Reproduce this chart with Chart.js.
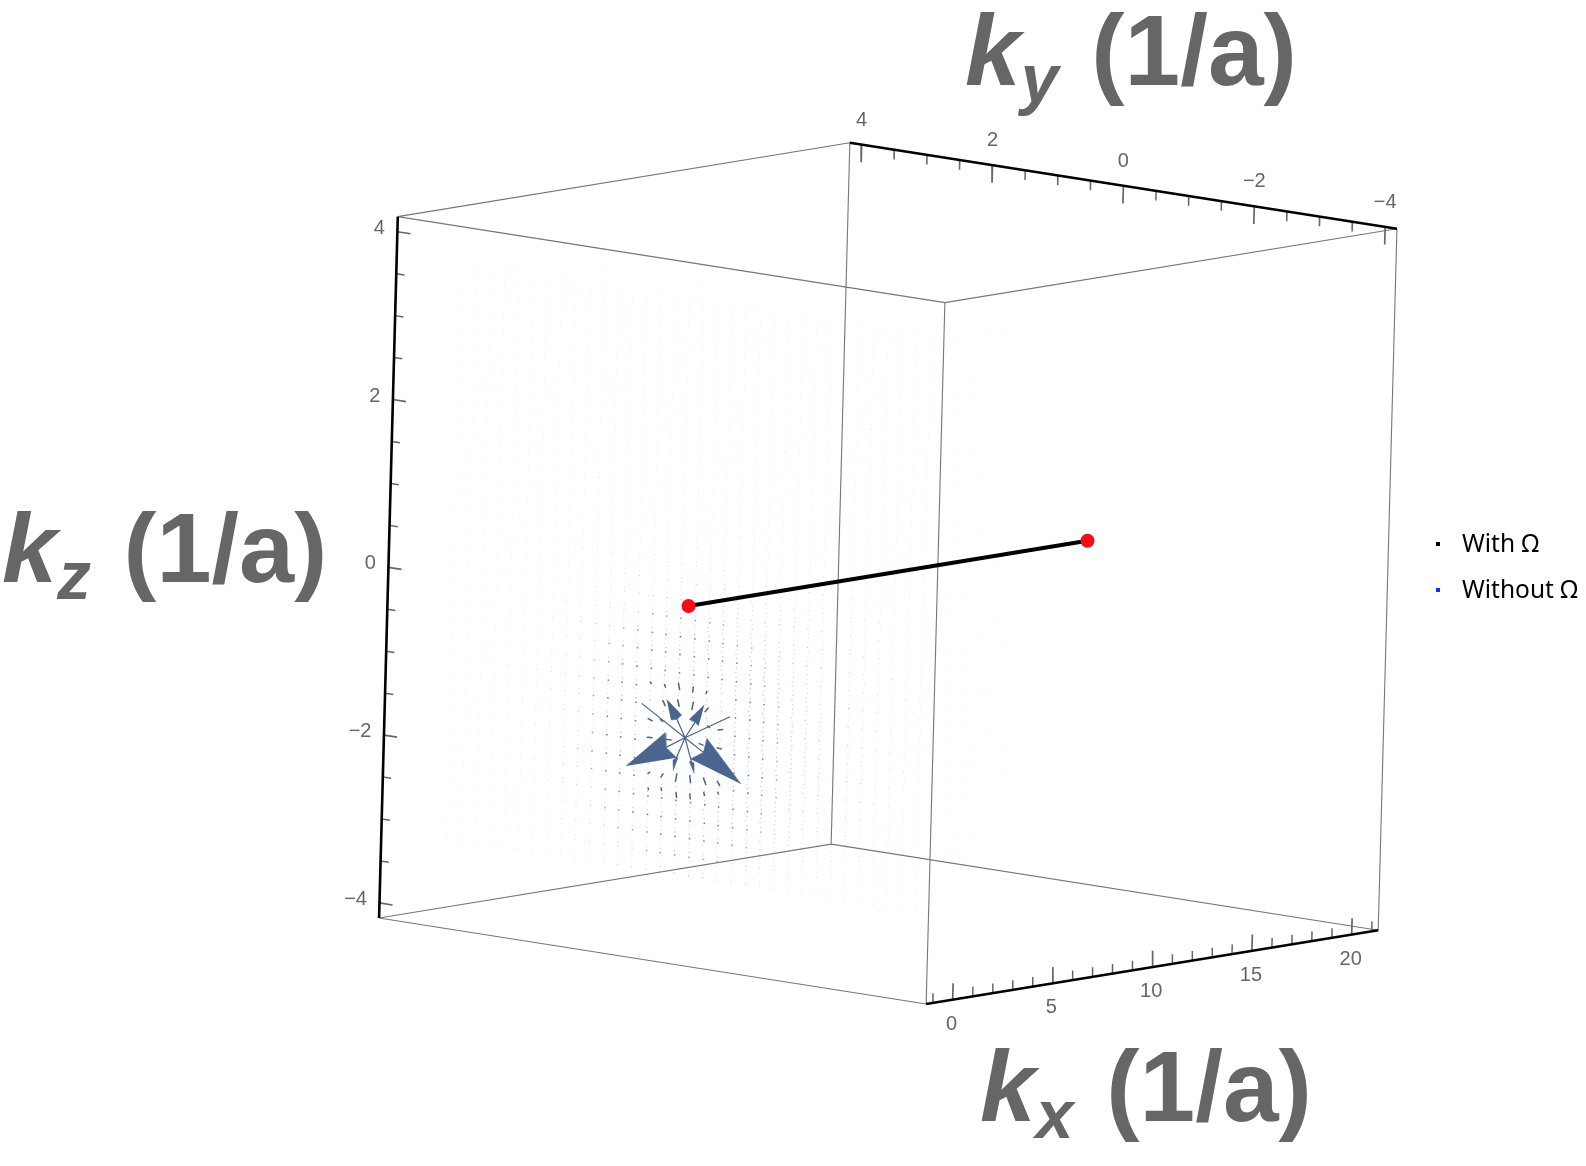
<!DOCTYPE html>
<html>
<head>
<meta charset="utf-8">
<script src="https://cdn.jsdelivr.net/npm/chart.js@4"></script>
<style>
body { margin:0; background:#fff; }
#wrap { position:relative; width:1586px; height:1166px; overflow:hidden; }
canvas { position:absolute; left:0; top:0; }
.axis_title { position:absolute; font:bold 100px "Liberation Sans"; font-kerning:none; color:#666; white-space:pre; line-height:1; }
.axis_title i { font-weight:bold; }
.axis_title sub { font-size:68px; font-style:italic; vertical-align:baseline; position:relative; top:17px; line-height:0; margin-right:5px; }
#title_z { font-size:99px; }
.legend_text { position:absolute; left:1462px; font:24.5px "Noto Sans"; color:#000; white-space:pre; line-height:1; }
.legend_mark { position:absolute; left:1436px; width:4px; height:4px; }
</style>
</head>
<body>
<div id="wrap">
<canvas id="plot" width="1586" height="1166"></canvas>
<div class="axis_title" id="title_y"><i>k</i><sub>y</sub> (1/a)</div>
<div class="axis_title" id="title_z"><i>k</i><sub>z</sub> (1/a)</div>
<div class="axis_title" id="title_x"><i>k</i><sub>x</sub> (1/a)</div>
</div>
<script>
// plot box limits
const kx_range = [-1.33, 21.33]
const ky_range = [-4.18, 4.18]
const kz_range = [-4.18, 4.18]

// ticks
const kx_major = [0, 5, 10, 15, 20]
const kx_minor = [-1, 1, 2, 3, 4, 6, 7, 8, 9, 11, 12, 13, 14, 16, 17, 18, 19, 21]
const ky_major = [4, 2, 0, -2, -4]
const ky_minor = [3.5, 3, 2.5, 1.5, 1, 0.5, -0.5, -1, -1.5, -2.5, -3, -3.5]
const kz_major = [4, 2, 0, -2, -4]
const kz_minor = [3.5, 3, 2.5, 1.5, 1, 0.5, -0.5, -1, -1.5, -2.5, -3, -3.5]
const kx_labels = ['0', '5', '10', '15', '20']
const ky_labels = ['4', '2', '0', '\u22122', '\u22124']
const kz_labels = ['4', '2', '0', '\u22122', '\u22124']

// the line between the two red points, [kx, ky, kz]
const weyl_a = [0, 0, 0]
const weyl_b = [20, 0, 0]

// faint vector field grid
const field_kx = 0
const field_layers = [0, 0.71, 2.13, 4.26, 7.1]
const layer_fade = [1, 0.6, 0.45, 0.35, 0.25]
const field_center = [0, -1.57]
const grid_ky = [3.58, 3.36, 3.14, 2.93, 2.71, 2.49, 2.28, 2.06, 1.84, 1.63, 1.41, 1.19, 0.98, 0.76, 0.54, 0.33, 0.11,
    -0.11, -0.33, -0.54, -0.76, -0.98, -1.19, -1.41, -1.63, -1.84, -2.06, -2.28, -2.49, -2.71, -2.93, -3.14, -3.36, -3.58]
const grid_kz = [3.52, 3.31, 3.09, 2.87, 2.66, 2.44, 2.22, 2.01, 1.79, 1.57, 1.36, 1.14, 0.92, 0.71, 0.49, 0.27, 0.06,
    -0.16, -0.38, -0.59, -0.81, -1.03, -1.24, -1.46, -1.68, -1.90, -2.11, -2.33, -2.55, -2.76, -2.98, -3.20]

// big arrow heads, [ky, kz] outlines
const head_left = [[0.886, -2.017], [0.306, -1.548], [0.285, -1.720], [0.119, -1.823]]
const head_right = [[-0.871, -2.016], [-0.335, -1.537], [-0.285, -1.710], [-0.090, -1.813]]
const head_up_left = [[0.295, -1.149], [0.060, -1.307], [0.129, -1.367], [0.220, -1.386]]
const head_up_right = [[-0.281, -1.146], [-0.059, -1.344], [-0.146, -1.369], [-0.203, -1.402]]
const head_low_left = [[0.164, -1.984], [0.174, -1.857], [0.124, -1.827], [0.093, -1.816]]
const head_low_right = [[-0.156, -1.976], [-0.076, -1.847], [-0.105, -1.835], [-0.152, -1.858]]

// thin shafts from the middle, far end [ky, kz]
const shaft_ends = [[0.285, -1.720], [-0.285, -1.710], [0.129, -1.367], [-0.146, -1.369],
    [0.124, -1.827], [-0.105, -1.835], [0.673, -1.243], [-0.676, -1.237]]

// short arrows around the middle, [ky, kz] of both ends
const short_from = [[0.355, -1.165], [0.128, -1.129], [-0.117, -1.126], [-0.348, -1.166], [0.576, -1.409], [0.288, -1.625],
    [0.583, -1.637], [-0.486, -1.630], [-0.210, -1.612], [-0.494, -1.418], [0.553, -2.071], [0.354, -2.090], [0.129, -2.111],
    [-0.086, -2.005], [-0.295, -2.007], [-0.504, -2.021], [0.123, -0.929], [-0.106, -0.948], [-0.316, -0.971], [0.555, -0.970],
    [0.336, -0.970], [0.115, -2.229], [-0.094, -2.222], [-0.306, -2.177], [-0.519, -2.151], [0.543, -2.229], [0.345, -2.205],
    [0.390, -1.395], [-0.330, -1.385]]
const short_to = [[0.312, -1.231], [0.099, -1.213], [-0.090, -1.229], [-0.289, -1.232], [0.499, -1.432], [0.202, -1.623],
    [0.492, -1.630], [-0.568, -1.636], [-0.287, -1.626], [-0.580, -1.400], [0.518, -2.039], [0.316, -2.034], [0.108, -2.009],
    [-0.104, -2.102], [-0.338, -2.093], [-0.552, -2.079], [0.100, -1.014], [-0.099, -1.021], [-0.301, -1.012], [0.529, -0.994],
    [0.314, -1.012], [0.103, -2.299], [-0.106, -2.293], [-0.323, -2.226], [-0.535, -2.180], [0.532, -2.260], [0.333, -2.247],
    [0.340, -1.420], [-0.380, -1.405]]

// legend
const legend_labels = ['With \u03a9', 'Without \u03a9']
const legend_colors = ['#000000', '#0a2cff']

const project = (kx, ky, kz) => ({
    x: 688.5 + 19.95 * kx - 65.44 * ky + 2.24 * kz,
    y: 606 - 3.26 * kx - 10.29 * ky - 83.9 * kz
})
const gap = { x: NaN, y: NaN }
const on_field = p => project(field_kx, p[0], p[1])

const segments = list => {
    let pts = []
    list.forEach(s => { pts.push(s[0], s[1], gap) })
    return pts
}

const [x0, x1] = kx_range
const [y0, y1] = ky_range
const [z0, z1] = kz_range

const box_lines = segments([
    [project(x1, y1, z1), project(x1, y1, z0)],
    [project(x0, y1, z1), project(x1, y1, z1)],
    [project(x0, y1, z1), project(x0, y0, z1)],
    [project(x0, y0, z1), project(x1, y0, z1)],
    [project(x0, y0, z1), project(x0, y0, z0)],
    [project(x1, y0, z1), project(x1, y0, z0)],
    [project(x0, y1, z0), project(x1, y1, z0)],
    [project(x1, y1, z0), project(x1, y0, z0)],
    [project(x0, y1, z0), project(x0, y0, z0)]
])
const axis_lines = segments([
    [project(x1, y1, z1), project(x1, y0, z1)],
    [project(x0, y1, z1), project(x0, y1, z0)],
    [project(x0, y0, z0), project(x1, y0, z0)]
])

// tick marks, len is in kz or ky units
const tick_set = (xs, ys, zs, len_y, len_z) => {
    let list = []
    xs.forEach(x => ys.forEach(y => zs.forEach(z => {
        list.push([project(x, y, z), project(x, y + len_y, z + len_z)])
    })))
    return segments(list)
}
const major_ticks = [
    ...tick_set(kx_major, [y0], [z0], 0, 0.195),
    ...tick_set([x1], ky_major, [z1], 0, -0.21),
    ...tick_set([x0], [y1], kz_major, -0.2, 0)
]
const minor_ticks = [
    ...tick_set(kx_minor, [y0], [z0], 0, 0.115),
    ...tick_set([x1], ky_minor, [z1], 0, -0.115),
    ...tick_set([x0], [y1], kz_minor, -0.125, 0)
]

let grid_points = []
field_layers.forEach((kx, n) => grid_ky.forEach(ky => grid_kz.forEach(kz => {
    if (n == 0 && Math.abs(ky - field_center[0]) < 0.62 && Math.abs(kz - field_center[1]) < 0.62) return
    const p = project(kx, ky, kz)
    grid_points.push({ x: p.x, y: p.y, ky: ky, kz: kz, fade: layer_fade[n] })
})))

const dot_dist = p => Math.hypot(p.ky - field_center[0], p.kz - field_center[1])
const dot_color = ctx => {
    const p = ctx.raw
    if (!p) return 'rgba(0,0,0,0)'
    const r = dot_dist(p)
    const a = Math.max(Math.min(0.85, 1.2 / (r * r)), 0.17) * p.fade
    return r > 3 ? `rgba(120,120,120,${a})` : `rgba(74,102,143,${a})`
}
const dot_size = ctx => {
    const p = ctx.raw
    return p && p.fade == 1 && dot_dist(p) < 1.6 ? 1.1 : 0.75
}

const arrow_blue = '#4a668f'
const head_set = [head_left, head_right, head_up_left, head_up_right, head_low_left, head_low_right]
const head_datasets = head_set.map(h => ({
    data: h.map(on_field),
    showLine: true,
    fill: 'shape',
    backgroundColor: arrow_blue,
    borderColor: arrow_blue,
    borderWidth: 0.5,
    pointRadius: 0
}))

const line_set = (data, color, width) => ({
    data: data,
    showLine: true,
    borderColor: color,
    borderWidth: width,
    pointRadius: 0,
    spanGaps: false
})

const datasets = [
    // first in the list is drawn on top
    { data: [project(...weyl_a), project(...weyl_b)], showLine: false, pointRadius: 7, pointBackgroundColor: '#fa0a14', pointBorderWidth: 0 },
    line_set([project(...weyl_a), project(...weyl_b)], '#000', 4),
    line_set(axis_lines, '#000', 2.6),
    line_set(box_lines, '#777', 1.1),
    line_set(major_ticks, '#666', 1.7),
    line_set(minor_ticks, '#666', 1.5),
    ...head_datasets,
    line_set(segments(shaft_ends.map(p => [on_field(field_center), on_field(p)])), arrow_blue, 1.2),
    line_set(segments(short_from.map((p, i) => [on_field(p), on_field(short_to[i])])), arrow_blue, 1.5),
    { data: grid_points, showLine: false, pointRadius: dot_size, pointStyle: 'rect', pointBorderWidth: 0, pointBackgroundColor: dot_color }
]

const tick_text = {
    id: 'tick_text',
    afterDatasetsDraw(chart) {
        const c = chart.ctx
        const sx = chart.scales.x
        const sy = chart.scales.y
        const put = (p, text, dx, dy, align) => {
            c.textAlign = align
            c.fillText(text, sx.getPixelForValue(p.x) + dx, sy.getPixelForValue(p.y) + dy)
        }
        c.save()
        c.font = '20px "Liberation Sans"'
        c.fillStyle = '#666'
        c.textBaseline = 'middle'
        kx_major.forEach((v, i) => put(project(v, y0, z0), kx_labels[i], -1, 24.5, 'center'))
        ky_major.forEach((v, i) => put(project(x1, v, z1), ky_labels[i], 0, -24.5, 'center'))
        kz_major.forEach((v, i) => put(project(x0, y1, v), kz_labels[i], -12.5, -3.5, 'right'))
        c.restore()
    }
}

new Chart(document.getElementById('plot'), {
    type: 'scatter',
    data: { datasets: datasets },
    options: {
        responsive: false,
        animation: false,
        layout: { padding: 0, autoPadding: false },
        elements: { line: { tension: 0 } },
        plugins: { legend: { display: false }, tooltip: { enabled: false } },
        scales: {
            x: { type: 'linear', min: 0, max: 1586, display: false },
            y: { type: 'linear', min: 0, max: 1166, reverse: true, display: false }
        }
    },
    plugins: [tick_text]
})

// axis titles, top left corner of each text box
const place = (id, left, top) => {
    const el = document.getElementById(id)
    el.style.left = left + 'px'
    el.style.top = top + 'px'
}
place('title_y', 965, 0)
place('title_z', 2, 498)
place('title_x', 980, 1036)

const wrap = document.getElementById('wrap')
legend_labels.forEach((t, i) => {
    const top = 544 + i * 46
    const mark = document.createElement('div')
    mark.className = 'legend_mark'
    mark.style.top = (top - 2) + 'px'
    mark.style.background = legend_colors[i]
    wrap.appendChild(mark)
    const txt = document.createElement('div')
    txt.className = 'legend_text'
    txt.style.top = (top - 13) + 'px'
    txt.textContent = t
    wrap.appendChild(txt)
})
</script>
</body>
</html>
